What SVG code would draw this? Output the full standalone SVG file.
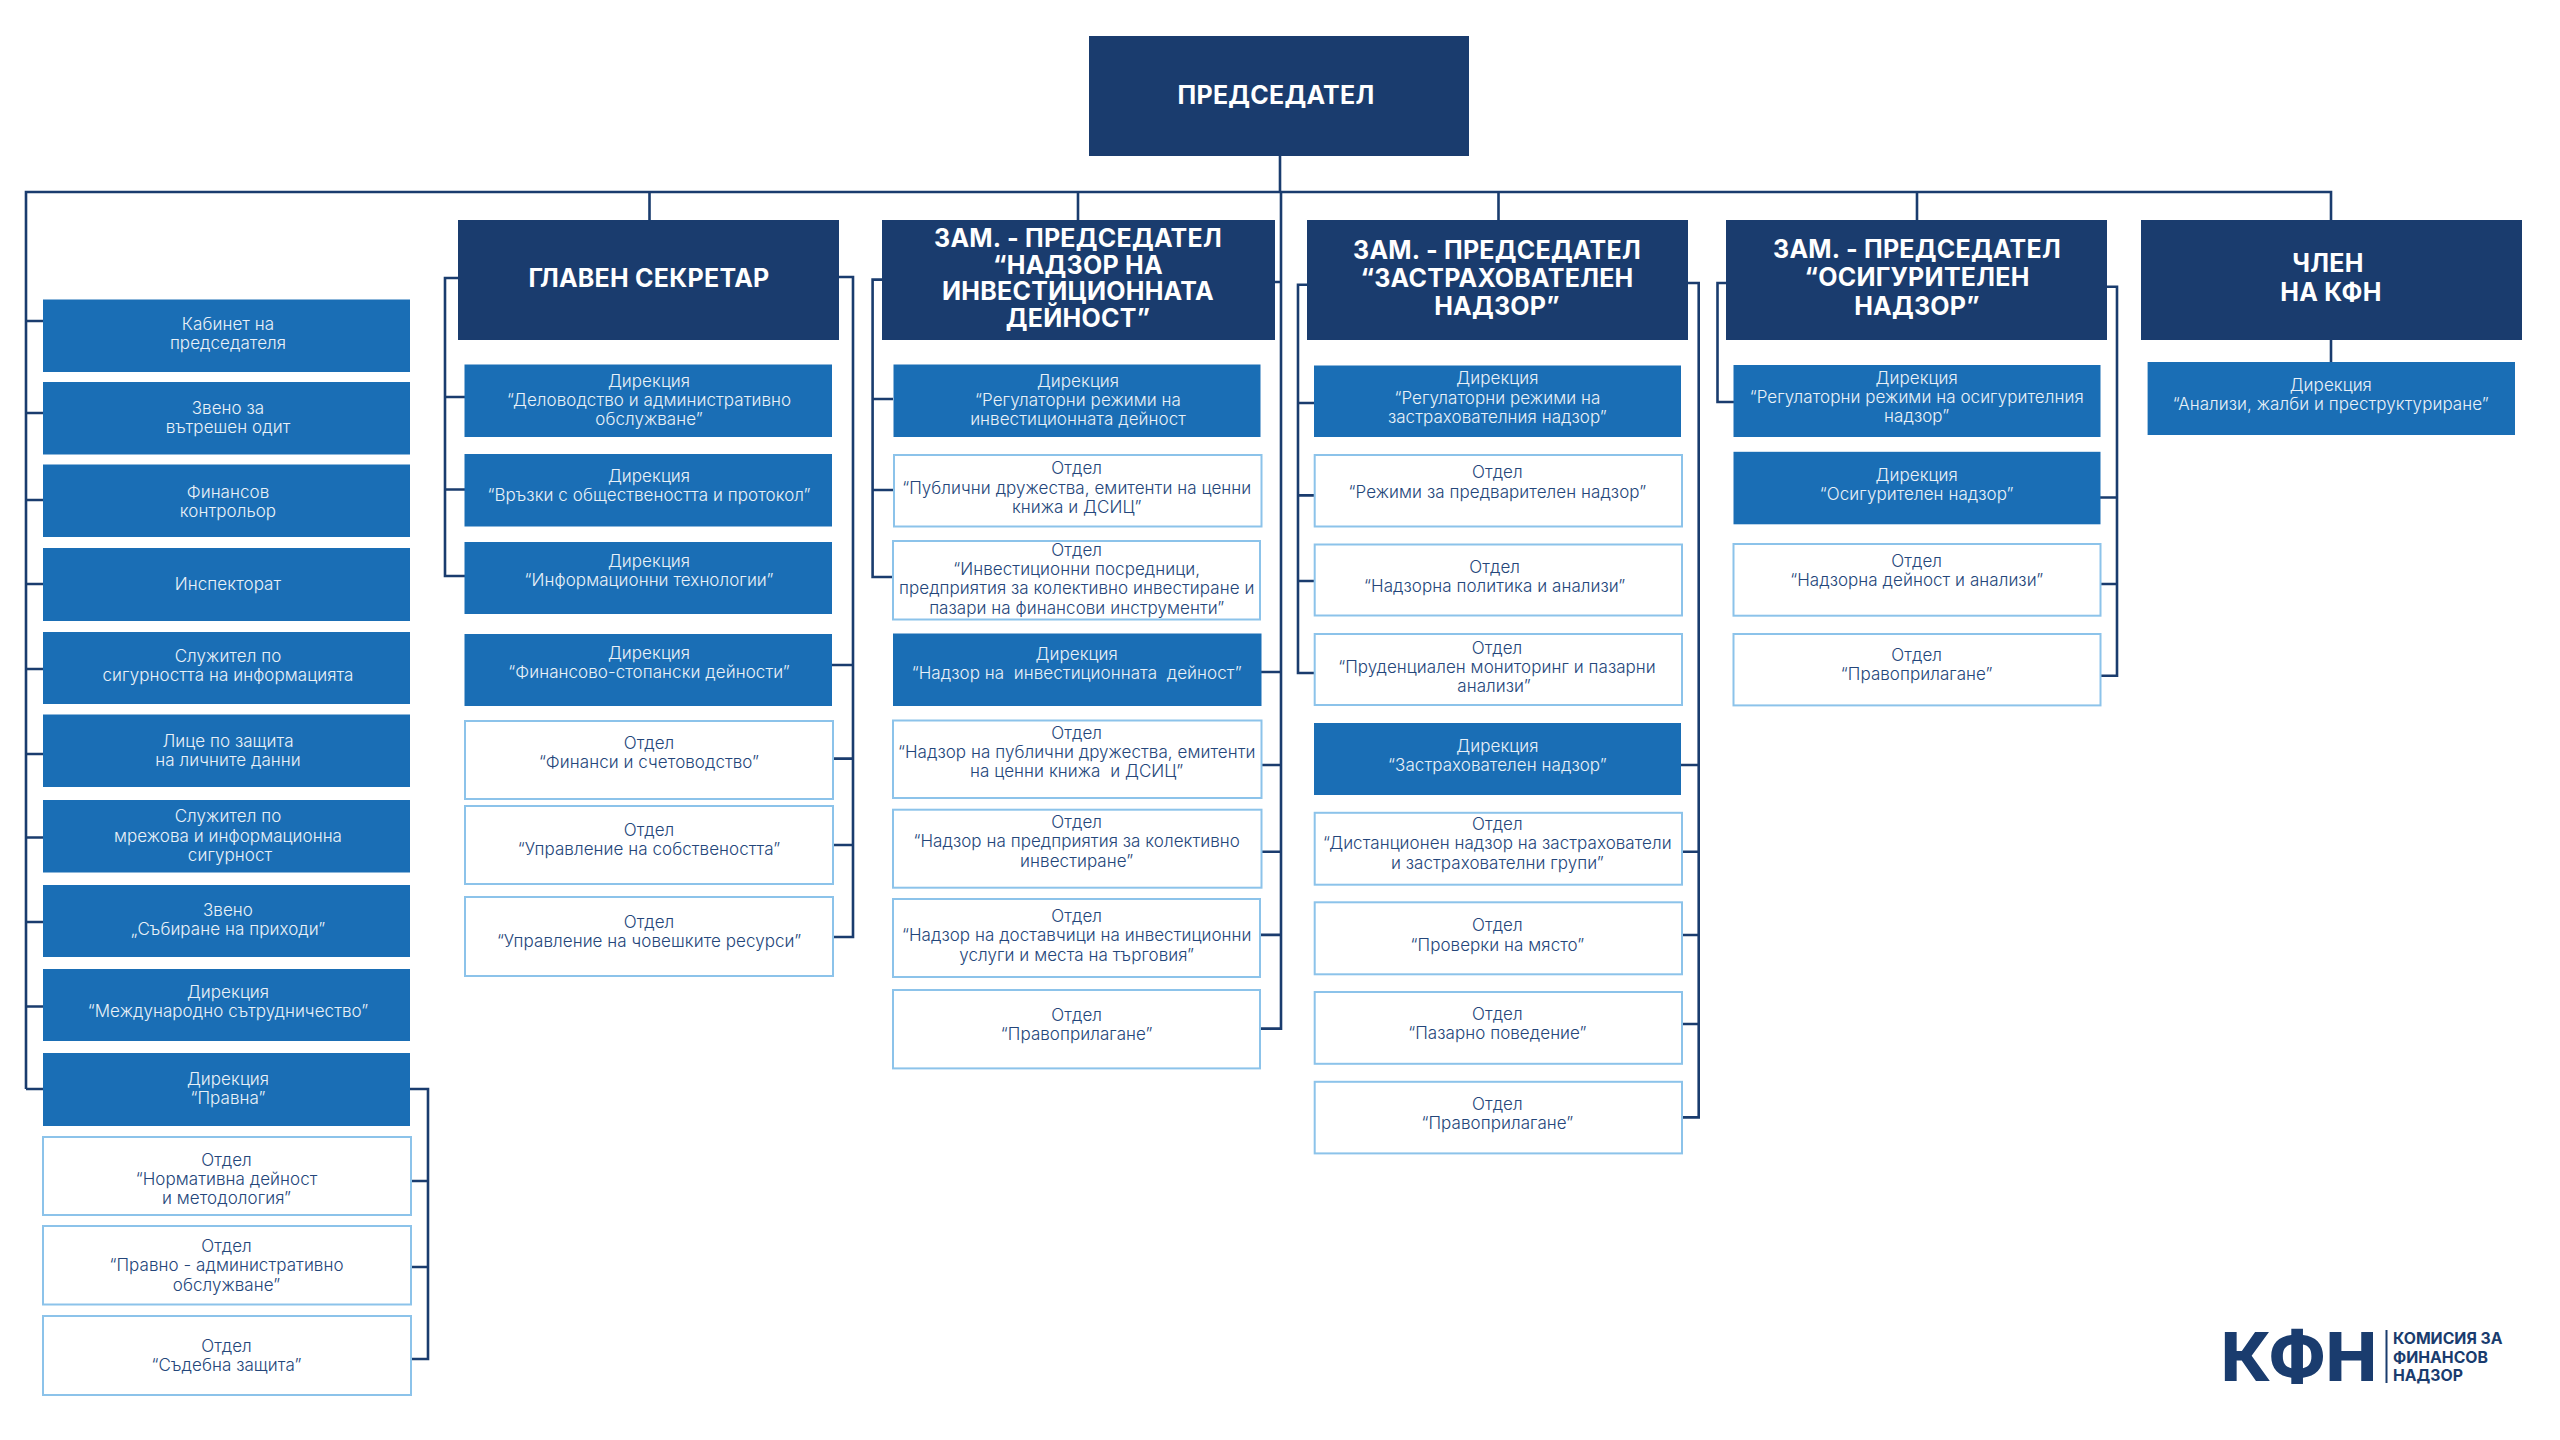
<svg xmlns="http://www.w3.org/2000/svg" width="2560" height="1440" viewBox="0 0 2560 1440">
<style>
.h{fill:#1a3c6e}.b{fill:#1a6eb5}.w{fill:#fff;stroke:#8cc3ea;stroke-width:2}
text{font-family:Inter,"Noto Sans",sans-serif;text-anchor:middle}
.tw{fill:#e9f1f8;font-size:17px;font-weight:300;letter-spacing:.06px}
.td{fill:#24467a;font-size:17px;font-weight:300;letter-spacing:.06px}
.th{fill:#fff;font-size:25px;font-weight:700;letter-spacing:.25px}
.c{fill:none;stroke:#1a3c6e;stroke-width:2.6}
.l{fill:#1a3c6e;font-weight:700;text-anchor:start}
</style>
<rect width="2560" height="1440" fill="#fff"/>
<g id="connectors" class="c">
<path d="M1280 156V192M26 1089V192H2331V220M649.500 192V220M1078 192V220M1498.500 192V220M1917 192V220"/>
<path d="M26 321H43M26 413H43M26 500H43M26 584H43M26 669H43M26 754H43M26 837.500H43M26 922H43M26 1006.500H43M26 1089H43"/>
<path d="M410 1089H428V1359H411M411 1181H428M411 1267H428"/>
<path d="M458 278H445V576H465M445 397H465M445 489.500H465"/>
<path d="M839 277H853V937H833M832 665H853M833 758.600H853M833 845H853"/>
<path d="M882 279.600H872.600V577H893M872.600 399H893M872.600 490H893"/>
<path d="M1275 282H1281V192M1281 282V1028.600H1260M1261 672H1281M1261 765H1281M1261 851.800H1281M1260 934.900H1281"/>
<path d="M1307 284.700H1298V673H1314M1298 403H1314M1298 495.400H1314M1298 581H1314"/>
<path d="M1688 283H1698.700V1117.400H1682M1681 765H1698.700M1682 851.800H1698.700M1682 935H1698.700M1682 1024H1698.700"/>
<path d="M1726 283H1717.500V402H1737"/>
<path d="M2107 286.800H2117V675.700H2100M2100 497.500H2117M2100 584H2117"/>
<path d="M2331 340V362"/>
</g>
<g id="n-chair"><rect class="h" x="1089" y="36" width="380" height="120"/><text class="th"><tspan x="1276" y="103.800">ПРЕДСЕДАТЕЛ</tspan></text></g>
<g id="n-sec"><rect class="h" x="458" y="220" width="381" height="120"/><text class="th"><tspan x="649" y="287">ГЛАВЕН СЕКРЕТАР</tspan></text></g>
<g id="n-dep1"><rect class="h" x="882" y="220" width="393" height="120"/><text class="th"><tspan x="1078" y="247">ЗАМ. - ПРЕДСЕДАТЕЛ</tspan><tspan x="1078" y="273.600">“НАДЗОР НА</tspan><tspan x="1078" y="300">ИНВЕСТИЦИОННАТА</tspan><tspan x="1078" y="327">ДЕЙНОСТ”</tspan></text></g>
<g id="n-dep2"><rect class="h" x="1307" y="220" width="381" height="120"/><text class="th"><tspan x="1497" y="258.500">ЗАМ. - ПРЕДСЕДАТЕЛ</tspan><tspan x="1497" y="287">“ЗАСТРАХОВАТЕЛЕН</tspan><tspan x="1497" y="315">НАДЗОР”</tspan></text></g>
<g id="n-dep3"><rect class="h" x="1726" y="220" width="381" height="120"/><text class="th"><tspan x="1917" y="258">ЗАМ. - ПРЕДСЕДАТЕЛ</tspan><tspan x="1917" y="286.400">“ОСИГУРИТЕЛЕН</tspan><tspan x="1917" y="315">НАДЗОР”</tspan></text></g>
<g id="n-member"><rect class="h" x="2141" y="220" width="381" height="120"/><text class="th"><tspan x="2328" y="272">ЧЛЕН</tspan><tspan x="2331" y="301">НА КФН</tspan></text></g>
<g id="n-l1"><rect class="b" x="43" y="299.500" width="367" height="72.500"/><text class="tw"><tspan x="228" y="329.700">Кабинет на</tspan><tspan x="228" y="349">председателя</tspan></text></g>
<g id="n-l2"><rect class="b" x="43" y="382" width="367" height="72.500"/><text class="tw"><tspan x="228" y="413.700">Звено за</tspan><tspan x="228" y="433">вътрешен одит</tspan></text></g>
<g id="n-l3"><rect class="b" x="43" y="464.500" width="367" height="72.500"/><text class="tw"><tspan x="228" y="497.700">Финансов</tspan><tspan x="228" y="517">контрольор</tspan></text></g>
<g id="n-l4"><rect class="b" x="43" y="548" width="367" height="73"/><text class="tw"><tspan x="228" y="590.400">Инспекторат</tspan></text></g>
<g id="n-l5"><rect class="b" x="43" y="632" width="367" height="72"/><text class="tw"><tspan x="228" y="662">Служител по</tspan><tspan x="228" y="681.400">сигурността на информацията</tspan></text></g>
<g id="n-l6"><rect class="b" x="43" y="714.500" width="367" height="72.500"/><text class="tw"><tspan x="228" y="747">Лице по защита</tspan><tspan x="228" y="766.400">на личните данни</tspan></text></g>
<g id="n-l7"><rect class="b" x="43" y="800" width="367" height="72.500"/><text class="tw"><tspan x="228" y="822.400">Служител по</tspan><tspan x="228" y="841.700">мрежова и информационна</tspan><tspan x="230" y="861">сигурност</tspan></text></g>
<g id="n-l8"><rect class="b" x="43" y="885" width="367" height="72"/><text class="tw"><tspan x="228" y="916">Звено</tspan><tspan x="228" y="935.300">„Събиране на приходи”</tspan></text></g>
<g id="n-l9"><rect class="b" x="43" y="969" width="367" height="72"/><text class="tw"><tspan x="228" y="997.800">Дирекция</tspan><tspan x="228" y="1017">“Международно сътрудничество”</tspan></text></g>
<g id="n-l10"><rect class="b" x="43" y="1053" width="367" height="73"/><text class="tw"><tspan x="228" y="1084.600">Дирекция</tspan><tspan x="228" y="1103.900">“Правна”</tspan></text></g>
<g id="n-l11"><rect class="w" x="43" y="1137" width="368" height="78"/><text class="td"><tspan x="226.500" y="1165.800">Отдел</tspan><tspan x="226.500" y="1185">“Нормативна дейност</tspan><tspan x="226.500" y="1204.400">и методология”</tspan></text></g>
<g id="n-l12"><rect class="w" x="43" y="1226" width="368" height="78.500"/><text class="td"><tspan x="226.500" y="1252">Отдел</tspan><tspan x="226.500" y="1271.400">“Правно - административно</tspan><tspan x="226.500" y="1290.700">обслужване”</tspan></text></g>
<g id="n-l13"><rect class="w" x="43" y="1316" width="368" height="79"/><text class="td"><tspan x="226.500" y="1352">Отдел</tspan><tspan x="226.500" y="1371.400">“Съдебна защита”</tspan></text></g>
<g id="n-s1"><rect class="b" x="464.500" y="364.500" width="367.500" height="72.500"/><text class="tw"><tspan x="649" y="387">Дирекция</tspan><tspan x="649" y="406">“Деловодство и административно</tspan><tspan x="649" y="425.200">обслужване”</tspan></text></g>
<g id="n-s2"><rect class="b" x="464.500" y="454" width="367.500" height="72.500"/><text class="tw"><tspan x="649" y="482">Дирекция</tspan><tspan x="649" y="501">“Връзки с обществеността и протокол”</tspan></text></g>
<g id="n-s3"><rect class="b" x="464.500" y="542" width="367.500" height="72"/><text class="tw"><tspan x="649" y="567">Дирекция</tspan><tspan x="649" y="586">“Информационни технологии”</tspan></text></g>
<g id="n-s4"><rect class="b" x="464.500" y="634" width="367.500" height="72"/><text class="tw"><tspan x="649" y="659">Дирекция</tspan><tspan x="649" y="678">“Финансово-стопански дейности”</tspan></text></g>
<g id="n-s5"><rect class="w" x="465" y="721" width="368" height="78"/><text class="td"><tspan x="649" y="748.500">Отдел</tspan><tspan x="649" y="767.800">“Финанси и счетоводство”</tspan></text></g>
<g id="n-s6"><rect class="w" x="465" y="806" width="368" height="78"/><text class="td"><tspan x="649" y="835.700">Отдел</tspan><tspan x="649" y="855">“Управление на собствеността”</tspan></text></g>
<g id="n-s7"><rect class="w" x="465" y="897" width="368" height="79"/><text class="td"><tspan x="649" y="927.500">Отдел</tspan><tspan x="649" y="946.800">“Управление на човешките ресурси”</tspan></text></g>
<g id="n-a1"><rect class="b" x="893.500" y="364.500" width="367" height="72.500"/><text class="tw"><tspan x="1078" y="387">Дирекция</tspan><tspan x="1078" y="406">“Регулаторни режими на</tspan><tspan x="1078" y="425">инвестиционната дейност</tspan></text></g>
<g id="n-a2"><rect class="w" x="894" y="455" width="367.500" height="71.500"/><text class="td"><tspan x="1076.700" y="474.300">Отдел</tspan><tspan x="1076.700" y="493.600">“Публични дружества, емитенти на ценни</tspan><tspan x="1076.700" y="512.900">книжа и ДСИЦ”</tspan></text></g>
<g id="n-a3"><rect class="w" x="893" y="541" width="367" height="78.500"/><text class="td"><tspan x="1076.700" y="555.600">Отдел</tspan><tspan x="1076.700" y="574.900">“Инвестиционни посредници,</tspan><tspan x="1076.700" y="594.200">предприятия за колективно инвестиране и</tspan><tspan x="1076.700" y="613.500">пазари на финансови инструменти”</tspan></text></g>
<g id="n-a4"><rect class="b" x="893" y="633.500" width="368.500" height="72.500"/><text class="tw"><tspan x="1076.700" y="660">Дирекция</tspan><tspan x="1076.700" y="679" xml:space="preserve">“Надзор на  инвестиционната  дейност”</tspan></text></g>
<g id="n-a5"><rect class="w" x="893" y="720.500" width="368.500" height="77.500"/><text class="td"><tspan x="1076.700" y="738.500">Отдел</tspan><tspan x="1076.700" y="757.700">“Надзор на публични дружества, емитенти</tspan><tspan x="1076.700" y="777" xml:space="preserve">на ценни книжа  и ДСИЦ”</tspan></text></g>
<g id="n-a6"><rect class="w" x="893" y="809.700" width="368.500" height="78"/><text class="td"><tspan x="1076.700" y="828">Отдел</tspan><tspan x="1076.700" y="847.300">“Надзор на предприятия за колективно</tspan><tspan x="1076.700" y="866.600">инвестиране”</tspan></text></g>
<g id="n-a7"><rect class="w" x="893" y="899" width="367" height="78"/><text class="td"><tspan x="1076.700" y="922">Отдел</tspan><tspan x="1076.700" y="941.300">“Надзор на доставчици на инвестиционни</tspan><tspan x="1076.700" y="960.600">услуги и места на търговия”</tspan></text></g>
<g id="n-a8"><rect class="w" x="893" y="990" width="367" height="78.400"/><text class="td"><tspan x="1076.700" y="1021">Отдел</tspan><tspan x="1076.700" y="1040.300">“Правоприлагане”</tspan></text></g>
<g id="n-i1"><rect class="b" x="1314" y="365.500" width="367" height="71.500"/><text class="tw"><tspan x="1497.400" y="384.300">Дирекция</tspan><tspan x="1497.400" y="403.600">“Регулаторни режими на</tspan><tspan x="1497.400" y="422.900">застрахователния надзор”</tspan></text></g>
<g id="n-i2"><rect class="w" x="1314.700" y="455" width="367.300" height="71.500"/><text class="td"><tspan x="1497.400" y="478.400">Отдел</tspan><tspan x="1497.400" y="497.700">“Режими за предварителен надзор”</tspan></text></g>
<g id="n-i3"><rect class="w" x="1314.700" y="544.500" width="367.300" height="71"/><text class="td"><tspan x="1494.700" y="572.500">Отдел</tspan><tspan x="1494.700" y="591.800">“Надзорна политика и анализи”</tspan></text></g>
<g id="n-i4"><rect class="w" x="1314.700" y="634" width="367.300" height="71"/><text class="td"><tspan x="1497" y="653.800">Отдел</tspan><tspan x="1497" y="673">“Пруденциален мониторинг и пазарни</tspan><tspan x="1494" y="692.400">анализи”</tspan></text></g>
<g id="n-i5"><rect class="b" x="1314" y="723" width="367" height="72"/><text class="tw"><tspan x="1497.400" y="751.500">Дирекция</tspan><tspan x="1497.400" y="770.700">“Застрахователен надзор”</tspan></text></g>
<g id="n-i6"><rect class="w" x="1314.700" y="812.800" width="367.300" height="71.900"/><text class="td"><tspan x="1497.400" y="830">Отдел</tspan><tspan x="1497.400" y="849.300">“Дистанционен надзор на застрахователи</tspan><tspan x="1497.400" y="868.600">и застрахователни групи”</tspan></text></g>
<g id="n-i7"><rect class="w" x="1314.700" y="902.300" width="367.300" height="72"/><text class="td"><tspan x="1497.400" y="931.400">Отдел</tspan><tspan x="1497.400" y="950.600">“Проверки на място”</tspan></text></g>
<g id="n-i8"><rect class="w" x="1314.700" y="992" width="367.300" height="71.800"/><text class="td"><tspan x="1497.400" y="1019.800">Отдел</tspan><tspan x="1497.400" y="1039">“Пазарно поведение”</tspan></text></g>
<g id="n-i9"><rect class="w" x="1314.700" y="1081.800" width="367.300" height="71.600"/><text class="td"><tspan x="1497.400" y="1109.800">Отдел</tspan><tspan x="1497.400" y="1129">“Правоприлагане”</tspan></text></g>
<g id="n-o1"><rect class="b" x="1733.500" y="365" width="367" height="72"/><text class="tw"><tspan x="1916.700" y="383.600">Дирекция</tspan><tspan x="1916.700" y="402.900">“Регулаторни режими на осигурителния</tspan><tspan x="1916.700" y="421.900">надзор”</tspan></text></g>
<g id="n-o2"><rect class="b" x="1733.500" y="451.800" width="367" height="72.500"/><text class="tw"><tspan x="1916.700" y="481.400">Дирекция</tspan><tspan x="1916.700" y="500.400">“Осигурителен надзор”</tspan></text></g>
<g id="n-o3"><rect class="w" x="1733.500" y="544" width="367" height="71.700"/><text class="td"><tspan x="1916.700" y="567">Отдел</tspan><tspan x="1916.700" y="586.300">“Надзорна дейност и анализи”</tspan></text></g>
<g id="n-o4"><rect class="w" x="1733.500" y="634" width="367" height="71.400"/><text class="td"><tspan x="1916.700" y="661">Отдел</tspan><tspan x="1916.700" y="680">“Правоприлагане”</tspan></text></g>
<g id="n-m1"><rect class="b" x="2147.600" y="362" width="367.400" height="73"/><text class="tw"><tspan x="2330.800" y="390.700">Дирекция</tspan><tspan x="2330.800" y="410">“Анализи, жалби и преструктуриране”</tspan></text></g>
<g id="logo"><text class="l" x="2221" y="1381" font-size="68" font-weight="800" style="font-weight:800" textLength="156" lengthAdjust="spacingAndGlyphs">КФН</text><rect x="2385.500" y="1330" width="2" height="53" fill="#1a3c6e"/><text class="l" font-size="15.800"><tspan x="2393" y="1344">КОМИСИЯ ЗА</tspan><tspan x="2393" y="1362.500">ФИНАНСОВ</tspan><tspan x="2393" y="1381">НАДЗОР</tspan></text></g>
</svg>
